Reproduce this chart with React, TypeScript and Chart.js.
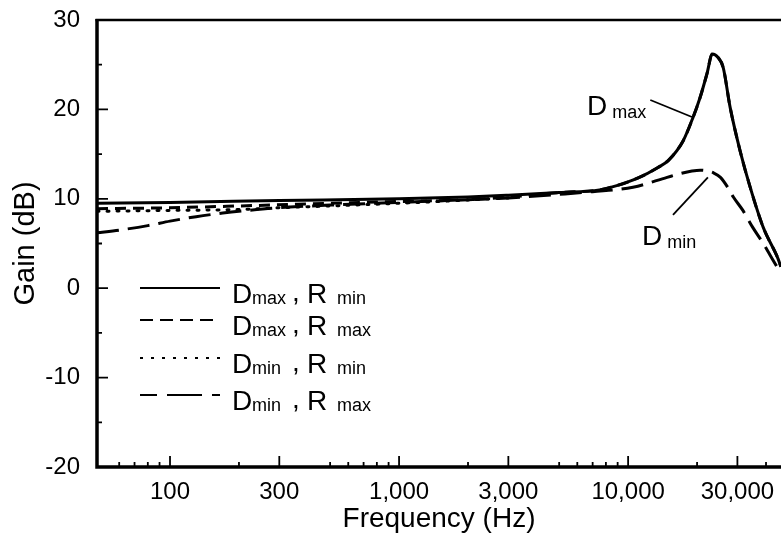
import React, { useEffect, useRef } from "react";
import { Chart, registerables } from "chart.js";

Chart.register(...registerables);

const FONT = "'Liberation Sans', Arial, Helvetica, sans-serif";

// Gain vs frequency for the four D / R combinations
const freqDmaxRmin = [48, 100, 300, 1000, 2000, 3000, 5000, 7500, 9000, 11000, 13500, 15000, 17400, 19200, 20600, 22100, 23300, 24700, 26000, 27900, 30800, 34100, 38900, 44800, 46500];
const gainDmaxRmin = [9.5, 9.6, 9.8, 10.0, 10.2, 10.4, 10.7, 11.0, 11.5, 12.3, 13.5, 14.3, 16.5, 19.1, 21.3, 24.0, 26.2, 25.8, 24.7, 20.2, 15.4, 11.3, 6.8, 3.5, 2.4];

const freqDmaxRmax = [48, 100, 200, 500, 1000, 2000, 3000, 5000, 7500, 9000, 11000, 13500, 15000, 17400, 19200, 20600, 22100, 23300, 24700, 26000, 27900, 30800, 34100, 38900, 44800, 46500];
const gainDmaxRmax = [8.9, 9.0, 9.2, 9.5, 9.7, 9.9, 10.2, 10.7, 11.0, 11.5, 12.3, 13.5, 14.3, 16.5, 19.1, 21.3, 24.0, 26.2, 25.8, 24.7, 20.2, 15.4, 11.3, 6.8, 3.5, 2.4];

const freqDminRmin = [48, 100, 200, 300, 500, 800, 1500, 3000];
const gainDminRmin = [8.6, 8.7, 8.8, 9.0, 9.2, 9.4, 9.7, 10.1];

const freqDminRmax = [48, 60, 80, 100, 130, 170, 220, 300, 500, 1000, 2000, 3000, 5000, 7000, 10500, 14800, 16800, 19000, 20600, 22300, 23600, 25300, 27200, 28800, 31700, 35000, 38900, 43000, 46500];
const gainDminRmax = [6.2, 6.5, 7.0, 7.5, 8.0, 8.4, 8.7, 9.0, 9.3, 9.6, 9.9, 10.1, 10.5, 10.8, 11.3, 12.4, 12.8, 13.1, 13.2, 13.1, 12.9, 12.4, 11.3, 10.2, 8.7, 6.8, 5.0, 3.1, 1.6];

// Axis ticks
const xMajorTicks = [100, 300, 1000, 3000, 10000, 30000];
const xMinorTicks = [60, 70, 80, 90, 200, 500, 600, 700, 800, 900, 2000, 5000, 6000, 7000, 8000, 9000, 20000, 40000];
const yMajorTicks = [-20, -10, 0, 10, 20, 30];
const yMinorTicks = [-15, -5, 5, 15, 25];

// Legend rows: D subscript, R subscript
const legendD = ["max", "max", "min", "min"];
const legendR = ["min", "max", "min", "max"];
const legendDash: number[][] = [[], [13, 7], [3, 8], [17, 10, 35, 10, 8, 0]];

// Curve labels with leader lines, in (Hz, dB)
const labelDmax = { text: "max", x: 6620, y: 19.4, from: [12500, 21.05], to: [19000, 19.15] };
const labelDmin = { text: "min", x: 11500, y: 4.8, from: [15700, 8.2], to: [22300, 12.4] };

const pts = (xs: number[], ys: number[]) => xs.map((x, i) => ({ x, y: ys[i] }));

const MAIN = 28;
const SUB = 18;

const framePlugin = {
  id: "frame",
  afterDatasetsDraw(chart: any) {
    const { ctx, chartArea: a, scales } = chart;
    const xs = scales.x;
    const ys = scales.y;
    ctx.save();
    ctx.strokeStyle = "#000";
    ctx.fillStyle = "#000";
    ctx.lineCap = "butt";

    // frame: left axis, bottom axis, top edge
    ctx.lineWidth = 3.5;
    ctx.beginPath();
    ctx.moveTo(a.left, a.top - 1);
    ctx.lineTo(a.left, a.bottom);
    ctx.lineTo(chart.width, a.bottom);
    ctx.stroke();
    ctx.lineWidth = 2.5;
    ctx.beginPath();
    ctx.moveTo(a.left - 1.5, a.top);
    ctx.lineTo(chart.width, a.top);
    ctx.stroke();

    // inward tick marks
    ctx.lineWidth = 1.8;
    ctx.beginPath();
    yMajorTicks.forEach((v) => {
      const py = ys.getPixelForValue(v);
      ctx.moveTo(a.left, py);
      ctx.lineTo(a.left + 11, py);
    });
    yMinorTicks.forEach((v) => {
      const py = ys.getPixelForValue(v);
      ctx.moveTo(a.left, py);
      ctx.lineTo(a.left + 5, py);
    });
    xMajorTicks.forEach((v) => {
      const px = xs.getPixelForValue(v);
      ctx.moveTo(px, a.bottom);
      ctx.lineTo(px, a.bottom - 11);
    });
    xMinorTicks.forEach((v) => {
      const px = xs.getPixelForValue(v);
      ctx.moveTo(px, a.bottom);
      ctx.lineTo(px, a.bottom - 5);
    });
    ctx.stroke();

    // legend
    const rowY = [268, 300, 338, 375];
    ctx.textBaseline = "alphabetic";
    ctx.textAlign = "left";
    rowY.forEach((dy, i) => {
      const y = a.top + dy;
      ctx.lineWidth = 2;
      ctx.setLineDash(legendDash[i]);
      ctx.beginPath();
      ctx.moveTo(a.left + 43, y);
      ctx.lineTo(a.left + 123, y);
      ctx.stroke();
      ctx.setLineDash([]);
      ctx.font = `${MAIN}px ${FONT}`;
      ctx.fillText("D", a.left + 135, y + 15);
      ctx.fillText(",", a.left + 195, y + 13);
      ctx.fillText("R", a.left + 210, y + 15);
      ctx.font = `${SUB}px ${FONT}`;
      ctx.fillText(legendD[i], a.left + 155, y + 16);
      ctx.fillText(legendR[i], a.left + 240, y + 16);
    });

    // curve labels
    [labelDmax, labelDmin].forEach((l) => {
      ctx.lineWidth = 1.8;
      ctx.beginPath();
      ctx.moveTo(xs.getPixelForValue(l.from[0]), ys.getPixelForValue(l.from[1]));
      ctx.lineTo(xs.getPixelForValue(l.to[0]), ys.getPixelForValue(l.to[1]));
      ctx.stroke();
      const px = xs.getPixelForValue(l.x);
      const py = ys.getPixelForValue(l.y);
      ctx.font = `${MAIN}px ${FONT}`;
      ctx.fillText("D", px, py);
      const w = ctx.measureText("D").width;
      ctx.font = `${SUB}px ${FONT}`;
      ctx.fillText(l.text, px + w + 5, py + 3);
    });
    ctx.restore();
  },
};

export default function App() {
  const ref = useRef<HTMLCanvasElement>(null);

  useEffect(() => {
    if (!ref.current) return;
    const line = (data: any[], dash: number[], cap: CanvasLineCap = "butt") => ({
      data,
      borderColor: "#000",
      borderWidth: 3,
      borderDash: dash,
      borderCapStyle: cap,
      pointRadius: 0,
      fill: false,
      cubicInterpolationMode: "monotone" as const,
    });
    const chart = new Chart(ref.current, {
      type: "line",
      data: {
        datasets: [
          { label: "Dmax, Rmin", ...line(pts(freqDmaxRmin, gainDmaxRmin), []) },
          { label: "Dmin, Rmax", ...line(pts(freqDminRmax, gainDminRmax), [22, 9]) },
          { label: "Dmax, Rmax", ...line(pts(freqDmaxRmax, gainDmaxRmax), [11, 7]) },
          { label: "Dmin, Rmin", ...line(pts(freqDminRmin, gainDminRmin), [2, 8], "round") },
        ],
      },
      options: {
        responsive: false,
        animation: false,
        devicePixelRatio: 1,
        layout: { padding: { top: 20, right: 0, bottom: 0, left: 0 } },
        plugins: { legend: { display: false }, tooltip: { enabled: false } },
        scales: {
          x: {
            type: "logarithmic",
            min: 48,
            max: 46500,
            afterBuildTicks: (s: any) => {
              s.ticks = xMajorTicks.map((v) => ({ value: v }));
            },
            afterFit: (s: any) => {
              s.height = 70;
              s.paddingLeft = 0;
              s.paddingRight = 0;
            },
            ticks: {
              autoSkip: false,
              maxRotation: 0,
              padding: 11,
              color: "#000",
              font: { family: FONT, size: 24 },
              callback: (v: any) => Number(v).toLocaleString("en-US"),
            },
            grid: { display: false, drawTicks: false },
            border: { display: false },
            title: {
              display: true,
              text: "Frequency (Hz)",
              color: "#000",
              font: { family: FONT, size: 28 },
              padding: { top: 0, bottom: 1 },
            },
          },
          y: {
            type: "linear",
            min: -20,
            max: 30,
            afterBuildTicks: (s: any) => {
              s.ticks = yMajorTicks.map((v) => ({ value: v }));
            },
            afterFit: (s: any) => {
              s.width = 97;
              s.paddingTop = 0;
              s.paddingBottom = 0;
            },
            ticks: {
              padding: 17,
              color: "#000",
              font: { family: FONT, size: 24 },
            },
            grid: { display: false, drawTicks: false },
            border: { display: false },
            title: {
              display: true,
              text: "Gain (dB)",
              color: "#000",
              font: { family: FONT, size: 29 },
              padding: { top: 9, bottom: 0 },
            },
          },
        },
      },
      plugins: [framePlugin],
    });
    return () => chart.destroy();
  }, []);

  return (
    <div style={{ position: "fixed", left: 0, top: 0, width: 781, height: 537, background: "#fff" }}>
      <canvas ref={ref} width={781} height={537} style={{ display: "block" }} />
    </div>
  );
}
